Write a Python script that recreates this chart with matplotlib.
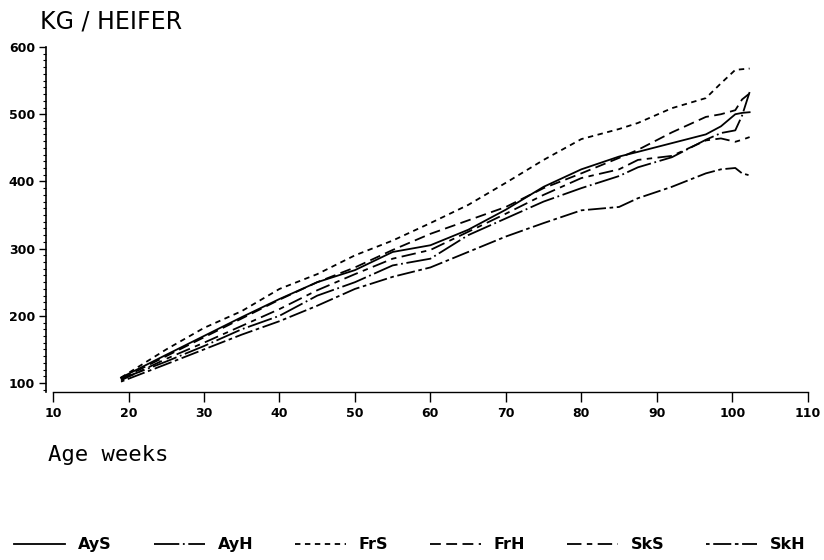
import matplotlib
matplotlib.use('Agg')
import matplotlib.pyplot as plt
from matplotlib.ticker import MultipleLocator

# weight curves (kg per heifer vs age in weeks)
weeks = [19, 25, 30, 35, 40, 45, 50, 55, 60, 65, 70, 75, 80, 85, 87.5, 92, 96.5, 98.5, 100.4, 101.3, 102.3]

frs = [108, 150, 182, 207, 240, 262, 290, 312, 338, 365, 398, 432, 463, 478, 487, 509, 524, 546, 566, 567, 568]
frh = [106, 140, 168, 196, 224, 250, 272, 298, 322, 342, 362, 390, 412, 435, 447, 473, 496, 500, 506, 522, 531]
ays = [108, 142, 170, 198, 225, 250, 268, 295, 305, 328, 358, 392, 418, 437, 444, 457, 470, 482, 500, 502, 503]
sks = [104, 136, 160, 185, 210, 238, 262, 285, 298, 325, 352, 380, 405, 418, 432, 438, 461, 464, 459, 462, 466]
ayh = [106, 132, 155, 180, 200, 230, 250, 275, 285, 320, 345, 370, 390, 408, 421, 436, 462, 472, 476, 498, 533]
skh = [102, 128, 150, 172, 192, 215, 240, 258, 272, 295, 318, 338, 357, 362, 375, 392, 412, 418, 420, 412, 409]

labels = ['AyS', 'AyH', 'FrS', 'FrH', 'SkS', 'SkH']
series = [ays, ayh, frs, frh, sks, skh]
styles = ['-', (0, (14, 2, 1, 2)), (0, (3, 2.5)), (0, (6, 3)), (0, (8, 3, 3, 3)), (0, (2, 2, 10, 2))]

fig = plt.figure(figsize=(8.24, 5.6), dpi=100)
ax = fig.add_axes([0.056, 0.30, 0.927, 0.616])

handles = []
for lab, vals, ls in zip(labels, series, styles):
    h, = ax.plot(weeks, vals, color='black', linestyle=ls, linewidth=1.3, label=lab)
    handles.append(h)

ax.set_xlim(9.08, 110.3)
ax.set_ylim(86.6, 600)

ax.spines['top'].set_visible(False)
ax.spines['right'].set_visible(False)
ax.spines['bottom'].set_bounds(10, 110)
ax.spines['left'].set_linewidth(1.2)
ax.spines['bottom'].set_linewidth(1.0)

ax.set_xticks(range(10, 111, 10))
ax.set_yticks(range(100, 601, 100))
ax.yaxis.set_minor_locator(MultipleLocator(10))
ax.tick_params(axis='x', direction='out', length=7, width=1, pad=4, labelsize=9)
ax.tick_params(axis='y', which='major', direction='out', length=5, width=1, pad=3, labelsize=9)
ax.tick_params(axis='y', which='minor', direction='out', length=2.5, width=0.8)
for t in ax.get_xticklabels() + ax.get_yticklabels():
    t.set_fontweight('bold')

fig.text(0.049, 0.962, 'KG / HEIFER', fontsize=17, va='center', ha='left')
fig.text(0.058, 0.188, 'Age weeks', fontsize=16, family='DejaVu Sans Mono', va='center', ha='left')

fig.legend(handles, labels, loc='lower left', bbox_to_anchor=(0.0, -0.012, 0.995, 0.06),
           mode='expand', ncol=6, frameon=False, handlelength=3.2, handletextpad=0.8,
           prop={'size': 11.5, 'weight': 'bold'})

fig.savefig('out.png', dpi=100)
